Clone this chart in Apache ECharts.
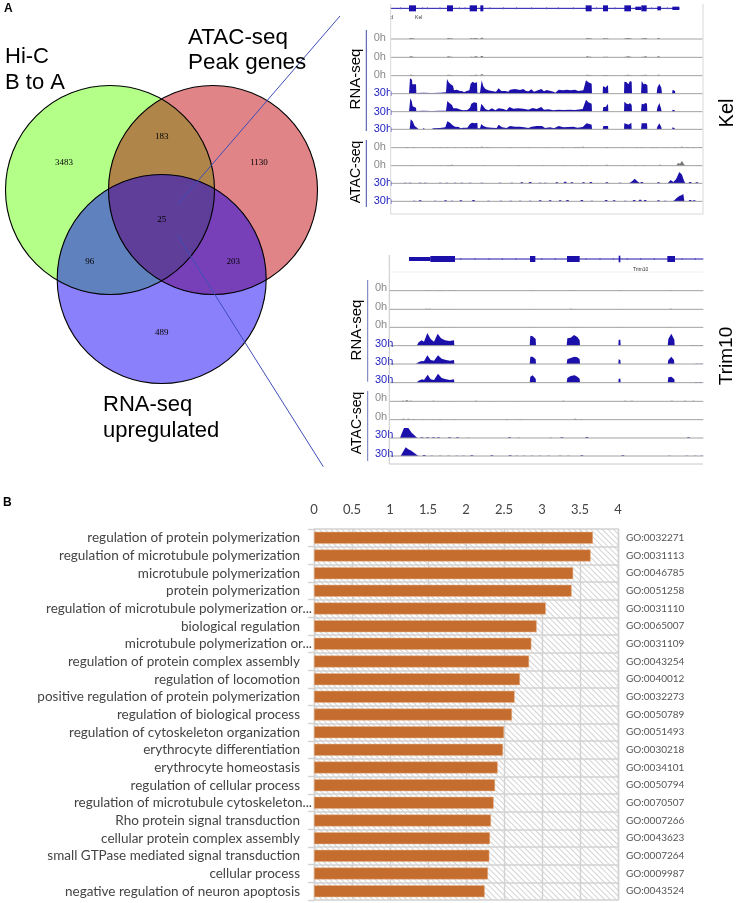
<!DOCTYPE html>
<html><head><meta charset="utf-8">
<style>html,body{margin:0;padding:0;background:#fff}#c{width:736px;height:903px}</style>
<script src="https://cdn.jsdelivr.net/npm/echarts@6/dist/echarts.min.js"></script>
</head><body><div id="c"></div>
<script>
// ---------- Panel B data ----------
const goTerms = ['regulation of protein polymerization','regulation of microtubule polymerization','microtubule polymerization','protein polymerization','regulation of microtubule polymerization or...','biological regulation','microtubule polymerization or...','regulation of protein complex assembly','regulation of locomotion','positive regulation of protein polymerization','regulation of biological process','regulation of cytoskeleton organization','erythrocyte differentiation','erythrocyte homeostasis','regulation of cellular process','regulation of microtubule cytoskeleton...','Rho protein signal transduction','cellular protein complex assembly','small GTPase mediated signal transduction','cellular process','negative regulation of neuron apoptosis'];
const goIds = ['GO:0032271','GO:0031113','GO:0046785','GO:0051258','GO:0031110','GO:0065007','GO:0031109','GO:0043254','GO:0040012','GO:0032273','GO:0050789','GO:0051493','GO:0030218','GO:0034101','GO:0050794','GO:0070507','GO:0007266','GO:0043623','GO:0007264','GO:0009987','GO:0043524'];
const goValues = [3.67,3.64,3.41,3.39,3.05,2.93,2.86,2.83,2.71,2.64,2.605,2.5,2.487,2.417,2.382,2.364,2.329,2.316,2.307,2.289,2.246];
const goAxisMax = 4;

// ---------- Panel A Venn data ----------
const vennCounts = {a:3483, ab:183, b:1130, abc:25, ac:96, bc:203, c:489};

// ---------- Genome tracks (x along the locus, height of the coverage) ----------
const kelExons = [[207,228,9],[321,339,9],[389,411,9],[421,430,9],[737,755,9],[789,804,9],[853,873,9],[886,903,5],[904,920,9],[952,963,6],[997,1018,5]];
const kelIntronTicks = [182,248,262,300,358,375,450,490,530,575,620,655,700,770,825,935,982];
const kelSmall = [[212,3],[218,2],[325,3],[333,2],[393,2],[402,2],[408,3],[425,4],[742,3],[750,2],[792,2],[800,2],[857,2],[864,3],[870,2],[908,2],[916,3],[955,3]];
const kelRna1 = [[207,0],[210,46],[216,42],[217,28],[228,28],[229,2],[250,3],[275,2],[300,3],[318,4],[321,44],[326,34],[332,28],[339,24],[342,10],[350,12],[360,8],[368,7],[372,4],[380,8],[388,10],[392,30],[398,36],[404,32],[411,34],[412,3],[420,3],[425,40],[430,22],[436,14],[445,10],[455,8],[468,6],[476,16],[484,8],[496,8],[505,6],[510,12],[525,14],[540,11],[550,14],[558,8],[566,7],[574,13],[582,6],[590,9],[604,14],[612,7],[620,11],[632,8],[640,6],[646,3],[656,12],[670,10],[680,12],[692,10],[705,12],[715,8],[730,10],[738,40],[745,34],[755,30],[756,0],[788,0],[789,22],[795,20],[796,18],[804,26],[805,0],[852,0],[853,36],[860,34],[865,28],[870,38],[875,36],[876,0],[903,0],[905,38],[911,28],[915,30],[922,26],[923,0],[950,0],[952,18],[958,30],[964,18],[966,0],[996,0],[998,12],[1005,8],[1006,0]];
const kelRna2 = [[207,0],[211,40],[215,32],[218,16],[228,12],[229,2],[250,3],[275,2],[300,3],[318,3],[322,32],[328,26],[336,20],[340,10],[350,10],[362,6],[370,4],[382,5],[390,12],[394,24],[402,28],[411,26],[412,2],[420,2],[424,24],[430,16],[436,8],[445,4],[456,10],[466,4],[476,10],[490,8],[500,4],[508,14],[520,9],[535,10],[550,9],[565,6],[578,11],[590,8],[604,14],[612,6],[625,7],[640,4],[655,6],[670,5],[690,6],[705,5],[728,8],[738,36],[745,28],[755,24],[756,0],[788,0],[790,14],[797,14],[804,24],[805,0],[852,0],[853,30],[860,24],[866,22],[870,26],[875,20],[876,0],[903,0],[905,24],[911,22],[916,26],[921,24],[922,0],[950,0],[952,12],[958,26],[963,10],[965,0],[996,0],[998,6],[1004,4],[1005,0]];
const kelRna3 = [[209,0],[212,30],[218,24],[224,10],[232,4],[236,0],[248,0],[251,4],[255,0],[274,0],[280,3],[300,4],[316,6],[322,24],[330,20],[338,12],[345,8],[356,7],[362,3],[370,5],[382,5],[390,16],[396,20],[404,18],[412,20],[413,3],[420,3],[424,16],[430,10],[440,6],[455,5],[470,4],[476,14],[486,6],[500,4],[510,10],[525,8],[540,8],[552,6],[565,4],[575,8],[590,10],[606,10],[615,4],[630,6],[642,3],[656,10],[670,6],[685,7],[700,8],[712,5],[728,7],[740,18],[748,16],[755,14],[756,0],[788,0],[790,10],[804,10],[805,0],[852,0],[853,18],[860,16],[866,14],[874,20],[875,0],[903,0],[905,18],[921,18],[922,0],[950,0],[952,8],[958,18],[964,6],[965,0],[996,0],[998,6],[1004,3],[1005,0]];
const kelAtac0a = [[200,2],[220,2],[280,2],[300,2],[320,2],[345,1],[378,2],[395,2],[410,2],[425,3],[440,2],[452,1],[510,2],[565,1],[620,1],[668,2],[705,2],[715,2],[728,3],[800,2],[850,1],[890,2],[905,2],[935,2],[948,2],[980,1],[1005,2],[1025,3],[1042,2],[1060,2],[1080,2]];
const kelAtac0b = [[214,1],[300,1],[325,2],[335,3],[430,1],[535,2],[610,1],[668,1],[725,2],[740,2],[800,3],[850,1],[885,2],[912,2],[960,3],[1075,1]];
const kelAtac0bPeak = [[1008,0],[1014,8],[1020,6],[1026,14],[1032,4],[1036,0]];
const kelAtac1 = [[195,2],[210,2],[240,2],[255,2],[300,2],[320,2],[345,2],[365,2],[390,2],[425,2],[480,2],[515,2],[545,3],[570,4],[600,2],[615,2],[650,3],[675,5],[695,3],[730,3],[752,4],[800,3],[840,2],[905,4],[955,3],[1050,4],[1070,3]];
const kelAtac1Peak = [[868,0],[878,8],[884,14],[892,6],[900,0],[983,0],[992,10],[1000,4],[1008,12],[1018,34],[1026,26],[1032,8],[1036,0]];
const kelAtac2 = [[222,2],[240,3],[285,2],[300,1],[316,3],[335,2],[362,3],[400,4],[445,2],[482,2],[512,2],[540,2],[570,2],[600,3],[630,3],[660,3],[682,4],[725,4],[755,2],[798,4],[822,3],[855,2],[882,4],[900,5],[915,4],[955,3],[975,2],[1050,4],[1062,3]];
const kelAtac2Peak = [[998,0],[1004,4],[1010,10],[1018,16],[1024,18],[1030,22],[1033,0]];

const trimExons = [[207,271,6],[271,345,9],[570,586,9],[681,719,9],[836,841,10],[982,1005,9]];
const trimIntronTicks = [362,405,447,487,528,605,646,738,780,820,862,902,943,1026,1066];
const trimSmall = [[258,1],[268,1],[292,1],[305,1],[328,1],[342,1],[578,1],[690,1],[705,1],[838,1],[992,1]];
const trimSmall2 = [[258,2],[268,2],[292,1],[318,1],[342,1],[578,1],[692,2],[705,1],[838,1],[992,2]];
const trimRna1 = [[230,0],[236,10],[245,16],[252,12],[262,38],[272,20],[282,12],[293,36],[303,22],[315,16],[328,14],[342,16],[343,0],[569,0],[571,30],[578,28],[587,20],[588,0],[680,0],[682,22],[692,24],[702,32],[712,26],[719,16],[720,0],[835,0],[836,18],[841,18],[842,0],[983,0],[985,20],[994,36],[1003,18],[1004,0]];
const trimRna2 = [[228,0],[236,6],[246,9],[252,8],[262,26],[272,12],[282,10],[294,26],[305,16],[318,12],[330,10],[342,12],[343,0],[569,0],[571,22],[578,22],[587,14],[588,0],[680,0],[682,14],[692,18],[703,22],[712,20],[719,14],[720,0],[835,0],[836,14],[841,12],[842,0],[983,0],[985,12],[994,22],[1002,12],[1003,0]];
const trimRna3 = [[228,0],[236,6],[246,10],[252,8],[263,24],[272,10],[282,8],[294,27],[305,14],[318,10],[330,8],[342,10],[343,0],[569,0],[571,18],[578,22],[587,12],[588,0],[680,0],[682,14],[692,20],[704,22],[712,18],[719,12],[720,0],[835,0],[836,12],[841,12],[842,0],[983,0],[985,16],[994,18],[1003,10],[1004,0]];
const trimRnaTail1 = [[1055,1],[1068,1],[1082,1]];
const trimRnaTail2 = [[1070,1],[1082,1]];
const trimRnaTail3 = [[1068,2],[1080,2]];
const trimAtac0a = [[188,2],[200,3],[212,2],[280,2],[295,1],[330,1],[408,2],[452,1],[535,1],[670,2],[855,2],[875,2],[995,2],[1035,2],[1060,2],[1075,1]];
const trimAtac0b = [[190,3],[205,3],[220,2],[250,1],[280,1],[300,2],[340,1],[500,2],[540,1],[705,3],[725,1]];
const trimAtac1 = [[245,2],[262,2],[280,2],[295,2],[328,2],[352,2],[385,1],[508,2],[535,1],[632,1],[665,2],[740,3],[1045,2]];
const trimAtac1Peak = [[180,0],[186,16],[192,30],[205,30],[215,16],[228,4],[232,0]];
const trimAtac2 = [[252,3],[275,1],[300,1],[325,1],[350,1],[370,1],[395,2],[455,2],[510,2],[530,1],[552,1],[575,1],[600,1],[625,1],[660,1],[685,1],[725,2],[848,2],[988,1],[1040,1],[1065,1],[1085,1]];
const trimAtac2Peak = [[182,0],[190,14],[197,26],[205,20],[214,16],[224,8],[232,2],[236,0]];

const kelTracks = [
 {label:'0h',profile:[],bumps:kelSmall},{label:'0h',profile:[],bumps:kelSmall},{label:'0h',profile:[],bumps:kelSmall},
 {label:'30h',profile:kelRna1,bumps:[]},{label:'30h',profile:kelRna2,bumps:[]},{label:'30h',profile:kelRna3,bumps:[]},
 {label:'0h',profile:[],bumps:kelAtac0a},{label:'0h',profile:kelAtac0bPeak,bumps:kelAtac0b},
 {label:'30h',profile:kelAtac1Peak,bumps:kelAtac1},{label:'30h',profile:kelAtac2Peak,bumps:kelAtac2}];
const trimTracks = [
 {label:'0h',profile:[],bumps:trimSmall},{label:'0h',profile:[],bumps:trimSmall2},{label:'0h',profile:[],bumps:trimSmall},
 {label:'30h',profile:trimRna1,bumps:trimRnaTail1},{label:'30h',profile:trimRna2,bumps:trimRnaTail2},{label:'30h',profile:trimRna3,bumps:trimRnaTail3},
 {label:'0h',profile:[],bumps:trimAtac0a},{label:'0h',profile:[],bumps:trimAtac0b},
 {label:'30h',profile:trimAtac1Peak,bumps:trimAtac1},{label:'30h',profile:trimAtac2Peak,bumps:trimAtac2}];

// ---------- Layout (not data) ----------
const kelLayout = {base:[117,172,227,281,335,388,443,497,550,604], text:[115,170,225,280,335,387,440,495,549,603], x0:152,x1:1088,labelX:101,geneY:25,geneX1:1018};
const trimLayout = {base:[137,193,247,302,357,413,469,524,579,633], text:[130,186,241,297,352,404,459,515,571,626], x0:148,x1:1090,labelX:105,geneY:42,geneX1:1090,geneX0:207};
const C = {a:[110,190],b:[213,190],c:[161.7,279]}, R = 104.5;
const vennPos = {a:[64,163],ab:[161.7,136.7],b:[259,163],abc:[161.7,219.7],ac:[89.7,261.3],bc:[233.3,261.3],c:[161.7,332.3]};
const SANS = '"Liberation Sans",Arial,sans-serif';
const TRK = '#1c10ab', GRID = '#d2d2d2';

function isect(A,B,pick){ // intersection of two equal circles, chosen nearest to pick
  const mx=(A[0]+B[0])/2,my=(A[1]+B[1])/2,dx=B[0]-A[0],dy=B[1]-A[1],d=Math.hypot(dx,dy),h=Math.sqrt(R*R-d*d/4);
  const p=[mx-dy/d*h,my+dx/d*h],q=[mx+dy/d*h,my-dx/d*h];
  return Math.hypot(p[0]-pick[0],p[1]-pick[1])<Math.hypot(q[0]-pick[0],q[1]-pick[1])?p:q;
}
function arc(c,p,q){
  let a0=Math.atan2(p[1]-c[1],p[0]-c[0]),a1=Math.atan2(q[1]-c[1],q[0]-c[0]);
  while(a1<a0)a1+=2*Math.PI;
  const pts=[];for(let i=0;i<=70;i++){const t=a0+(a1-a0)*i/70;pts.push([c[0]+R*Math.cos(t),c[1]+R*Math.sin(t)]);}
  return pts;
}
function renderVenn(params,api){
  const xy=p=>api.coord(p);
  const poly=(pts,fill)=>({type:'polygon',shape:{points:pts.map(xy)},style:{fill}});
  const circ=(c,fill,stroke)=>({type:'circle',shape:{cx:xy(c)[0],cy:xy(c)[1],r:R},style:{fill:fill||'none',stroke:stroke||'none',lineWidth:1.1}});
  const lens=(A,B,fill)=>{ // the two arcs that bound A∩B, each the short way round
    const dx=B[0]-A[0],dy=B[1]-A[1],mx=(A[0]+B[0])/2,my=(A[1]+B[1])/2;
    const p=isect(A,B,[mx-dy,my+dx]),q=isect(A,B,[mx+dy,my-dx]);
    return poly(arc(A,q,p).concat(arc(B,p,q)),fill);};
  const Pab=isect(C.a,C.b,C.c),Pac=isect(C.a,C.c,C.b),Pbc=isect(C.b,C.c,C.a);
  const tri=arc(C.c,Pbc,Pac).concat(arc(C.a,Pac,Pab),arc(C.b,Pab,Pbc));
  const ch=[circ(C.a,'#b3ff88'),circ(C.b,'#e08488'),circ(C.c,'#8a80fb'),
    lens(C.a,C.b,'#b08549'),lens(C.a,C.c,'#5f81bd'),lens(C.b,C.c,'#7840b8'),poly(tri,'#5e3e98'),
    circ(C.a,null,'#000'),circ(C.b,null,'#000'),circ(C.c,null,'#000')];
  Object.keys(vennCounts).forEach(k=>{const p=xy(vennPos[k]);
    ch.push({type:'text',style:{text:String(vennCounts[k]),x:p[0],y:p[1],textAlign:'center',textVerticalAlign:'middle',font:'9px "Liberation Serif",serif',fill:'#000'}});});
  return {type:'group',children:ch};
}
function trackRenderer(tracks,layout,exons,ticks,tinyGene){
  return function(params,api){
    const i=params.dataIndex,xy=p=>api.coord(p),ch=[];
    if(i===tracks.length){ // gene model
      const g=layout.geneY,x0=layout.geneX0||layout.x0;
      const a=xy([x0,g]),b=xy([layout.geneX1,g]);
      ch.push({type:'line',shape:{x1:a[0],y1:a[1],x2:b[0],y2:b[1]},style:{stroke:TRK,lineWidth:1}});
      exons.forEach(e=>{const p=xy([e[0],g-e[2]]),q=xy([e[1],g+e[2]]);
        ch.push({type:'rect',shape:{x:p[0],y:p[1],width:q[0]-p[0],height:q[1]-p[1]},style:{fill:TRK}});});
      ticks.forEach(t=>{const p=xy([t,g-3]),q=xy([t,g+3]);
        ch.push({type:'line',shape:{x1:p[0],y1:p[1],x2:q[0],y2:q[1]},style:{stroke:'#5a55c8',lineWidth:1}});});
      tinyGene.forEach(t=>{const p=xy(t.p);
        ch.push({type:'text',style:{text:t.s,x:p[0],y:p[1],textAlign:'center',textVerticalAlign:'middle',font:'5px '+SANS,fill:'#333'}});});
      return {type:'group',children:ch};
    }
    const tr=tracks[i],base=layout.base[i],blue=tr.label==='30h',fill=blue?TRK:'#777';
    if(tr.profile.length){
      const pts=tr.profile.map(d=>xy([d[0],base-d[1]]));
      pts.unshift(xy([tr.profile[0][0],base]));pts.push(xy([tr.profile[tr.profile.length-1][0],base]));
      ch.push({type:'polygon',shape:{points:pts},style:{fill}});
    }
    tr.bumps.forEach(b=>{ch.push({type:'polygon',shape:{points:[xy([b[0]-5,base]),xy([b[0]-2,base-b[1]]),xy([b[0]+3,base-b[1]]),xy([b[0]+6,base])]},style:{fill}});});
    const a=xy([layout.x0,base]),c=xy([layout.x1,base]);
    ch.push({type:'line',shape:{x1:a[0],y1:a[1],x2:c[0],y2:c[1]},style:{stroke:'#a2a2a2',lineWidth:1}});
    const t=xy([layout.labelX,layout.text[i]]);
    ch.push({type:'text',style:{text:tr.label,x:t[0],y:t[1],textVerticalAlign:'middle',font:'11px '+SANS,fill:blue?'#2222c0':'#8a8a8a'}});
    return {type:'group',children:ch};
  };
}
const hidden=(min,max,gridIndex,inverse)=>({type:'value',show:false,min,max,gridIndex,inverse:!!inverse,splitLine:{show:false}});
const rangeIdx=n=>Array.from({length:n},(_,i)=>i);
const txt=(s,x,y,size,rot)=>({type:'text',x,y,rotation:rot||0,z:20,style:{text:s,font:size+'px '+SANS,fill:'#000',textAlign:rot?'center':'left',textVerticalAlign:rot?'middle':'top'}});
const ln=(x1,y1,x2,y2,stroke)=>({type:'line',z:15,shape:{x1,y1,x2,y2},style:{stroke,lineWidth:1}});

const chart=echarts.init(document.getElementById('c'),null,{renderer:'canvas'});
chart.setOption({
  animation:false,backgroundColor:'#fff',
  grid:[
    {left:314,top:529,width:304,height:371},
    {left:0,top:0,width:736,height:903},
    {left:340,top:0,width:396,height:301},
    {left:340,top:245,width:396,height:301}
  ],
  xAxis:[
    {type:'value',position:'top',min:0,max:goAxisMax,interval:0.5,gridIndex:0,z:2,axisLine:{show:false},axisTick:{show:false},
      axisLabel:{margin:13,fontFamily:'Lato',fontSize:13,color:'#444'},splitLine:{show:true,lineStyle:{color:GRID,width:1.4}}},
    hidden(0,736,1),hidden(0,1188,2),hidden(0,1188,3)
  ],
  yAxis:[
    {type:'category',inverse:true,data:goTerms,gridIndex:0,position:'left',z:2,
      axisLine:{show:true,lineStyle:{color:GRID,width:1.4}},axisTick:{show:true,length:6,lineStyle:{color:GRID,width:1.4}},
      splitLine:{show:true,lineStyle:{color:GRID,width:1.6}},
      axisLabel:{margin:0,interval:0,formatter:v=>v.endsWith('...')?'{e|'+v+'}':'{n|'+v+'}',
        rich:{n:{fontFamily:'Lato',fontSize:13.5,color:'#444',padding:[0,14,0,0]},e:{fontFamily:'Lato',fontSize:13.5,color:'#444',padding:[0,2,0,0]}}}},
    {type:'category',inverse:true,data:goIds,gridIndex:0,position:'right',z:2,
      axisLine:{show:true,lineStyle:{color:GRID,width:1.4}},axisTick:{show:false},
      axisLabel:{margin:8,interval:0,fontFamily:'Lato',fontSize:10,color:'#555',padding:[4,0,0,0]}},
    hidden(0,903,1,true),hidden(0,903,2,true),hidden(0,903,3,true)
  ],
  series:[
    {type:'bar',name:'hatch',xAxisIndex:0,yAxisIndex:1,barWidth:'100%',silent:true,z:1,data:goIds.map(()=>goAxisMax),
      itemStyle:{color:'rgba(255,255,255,0)',decal:{symbol:'rect',symbolSize:1,color:'#d3d3d3',backgroundColor:'rgba(255,255,255,0)',dashArrayX:[1,0],dashArrayY:[1,2.2],rotation:Math.PI/4}}},
    {type:'bar',name:'-log10(p)',xAxisIndex:0,yAxisIndex:0,barWidth:12,z:3,data:goValues,itemStyle:{color:'#c56d2e',borderColor:'#e8b48c',borderWidth:0.5}},
    {type:'custom',name:'venn',xAxisIndex:1,yAxisIndex:2,data:[0],renderItem:renderVenn,silent:true,clip:false,z:5},
    {type:'custom',name:'Kel',xAxisIndex:2,yAxisIndex:3,data:rangeIdx(kelTracks.length+1),silent:true,clip:false,z:5,
      renderItem:trackRenderer(kelTracks,kelLayout,kelExons,kelIntronTicks,[{s:'Kel',p:[236,53]},{s:'d',p:[155,53]}])},
    {type:'custom',name:'Trim10',xAxisIndex:3,yAxisIndex:4,data:rangeIdx(trimTracks.length+1),silent:true,clip:false,z:5,
      renderItem:trackRenderer(trimTracks,trimLayout,trimExons,trimIntronTicks,[{s:'Trim10',p:[902,73]}])}
  ],
  graphic:{elements:[
    {type:'text',x:4,y:3,z:20,style:{text:'A',font:'bold 12px '+SANS,fill:'#000'}},
    {type:'text',x:3,y:497,z:20,style:{text:'B',font:'bold 12px '+SANS,fill:'#000'}},
    txt('Hi-C',5,46,22),txt('B to A',5,72,22),
    txt('ATAC-seq',188,27,22.4),txt('Peak genes',188,52,22.4),
    txt('RNA-seq',103,394,22),txt('upregulated',103,420,22),
    ln(340,16,177.7,204.3,'#3e4fb8'),ln(177.7,235.7,323.3,466.7,'#3e4fb8'),
    // Kel panel furniture
    ln(390.7,4,390.7,214,'#d8d8d8'),ln(703,4,703,214,'#d8d8d8'),ln(390.7,214,703,214,'#d8d8d8'),
    ln(366.3,30,366.3,131,'#3b4ba8'),ln(366.3,140,366.3,207,'#3b4ba8'),
    txt('RNA-seq',356,79,15,Math.PI/2),txt('ATAC-seq',356,172,14,Math.PI/2),txt('Kel',727,113,20,Math.PI/2),
    // Trim10 panel furniture
    ln(389.3,255,389.3,464,'#c8c8c8'),ln(389.3,464,703,464,'#c8c8c8'),ln(389.3,272,703,272,'#f0f0f0'),
    ln(367.7,280,367.7,381.7,'#6a76b8'),ln(367.7,391,367.7,461,'#6a76b8'),
    txt('RNA-seq',357,330,15,Math.PI/2),txt('ATAC-seq',357,423,14,Math.PI/2),txt('Trim10',727,356,19,Math.PI/2)
  ]}
});
</script></body></html>
